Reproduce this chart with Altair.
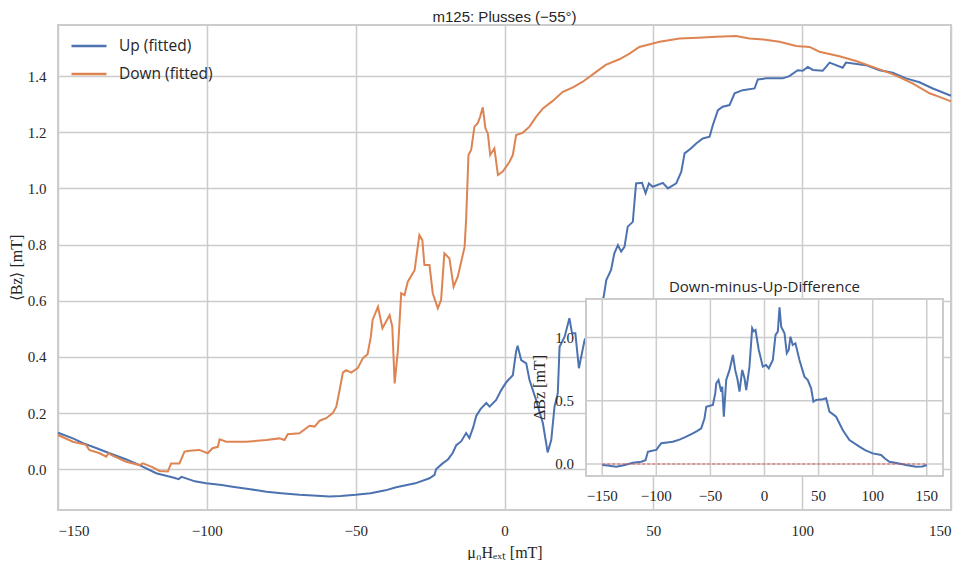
import altair as alt
import pandas as pd

# ---------------- data ----------------
SERIES = ["Up (fitted)", "Down (fitted)"]
COLORS = ["#4c72b0", "#dd8452"]

UP_X = [-150, -145, -141.6, -137, -132.7, -127, -122.6, -117, -113, -111, -109.5, -108.5, -104, -100.2,
        -95, -91.4, -86, -80, -75, -68.9, -63, -58.8, -55, -50, -45, -40, -36.4, -30, -25.2, -23.5, -23,
        -20.8, -19, -17.4, -16.2, -14.5, -12.9, -11.8, -10.5, -9.5, -8, -6.1, -5.0, -2.8, -1.1, 0.6, 2.8,
        3.9, 4.4, 5.6, 7.3, 8.4, 10.6, 12.9, 14.5, 15.7, 16.8, 17.9, 18.5, 20.2, 21.8, 22.7, 23.8, 25,
        26.9, 29, 31, 33.3, 34.2, 35.8, 36.9, 38.1, 39.2, 40.3, 41.4, 43.1, 44.2, 46.2, 47.4, 48.5, 49.8,
        53.2, 54.9, 57.7, 59.4, 60.5, 62.7, 64.4, 66.6, 68.9, 70, 71.7, 73.3, 75.6, 77.3, 80, 84, 85.1,
        87.9, 93.5, 95.7, 98.5, 100.2, 101.9, 103.6, 106.9, 109.2, 113.6, 114.7, 121.4, 126, 130.4, 134.9,
        139.4, 143.9, 150]
UP_Y = [0.13, 0.11, 0.093, 0.075, 0.057, 0.035, 0.015, -0.014, -0.025, -0.03, -0.035, -0.027, -0.043, -0.05,
        -0.056, -0.062, -0.07, -0.08, -0.085, -0.091, -0.094, -0.097, -0.095, -0.091, -0.085, -0.075, -0.064,
        -0.05, -0.032, -0.02, 0.0, 0.021, 0.035, 0.058, 0.086, 0.1, 0.129, 0.111, 0.15, 0.19, 0.215, 0.236,
        0.223, 0.247, 0.282, 0.31, 0.335, 0.42, 0.44, 0.389, 0.377, 0.318, 0.247, 0.164, 0.06, 0.104, 0.223,
        0.27, 0.436, 0.472, 0.538, 0.484, 0.484, 0.36, 0.46, 0.5, 0.56, 0.614, 0.674, 0.71, 0.769, 0.798,
        0.775, 0.792, 0.864, 0.881, 1.018, 1.02, 0.983, 1.018, 1.006, 1.02, 1.0, 1.018, 1.06, 1.125, 1.143,
        1.16, 1.178, 1.184, 1.226, 1.279, 1.291, 1.297, 1.339, 1.35, 1.356, 1.388, 1.392, 1.392, 1.4, 1.421,
        1.419, 1.433, 1.422, 1.419, 1.448, 1.43, 1.448, 1.439, 1.421, 1.412, 1.392, 1.378, 1.356, 1.33]

DOWN_X = [-150, -145, -140.6, -139.5, -136, -133.8, -133, -132, -127.1, -122.6, -121.5, -118.1, -115.9,
          -113.1, -112, -109.2, -107.5, -105.8, -102.5, -99.7, -98.1, -96.3, -95.7, -93.5, -86.8, -80, -75.6,
          -73.9, -72.8, -68.9, -65.5, -63.8, -62.1, -59.9, -57.7, -56.5, -55.4, -54.3, -53.2, -51.5, -49.3,
          -47.6, -46, -44.9, -44.3, -42.5, -41, -38.6, -37.7, -36.9, -35.8, -34.7, -33.6, -32.5, -30.2,
          -28.6, -27.6, -26.9, -25.2, -24.1, -22.4, -21.3, -20.2, -18.5, -17.1, -15.7, -13.4, -12.9, -12.1,
          -11.2, -10.1, -9.0, -8.2, -7.3, -6.4, -5.6, -4.8, -3.4, -2.2, -0.6, 1.7, 2.8, 3.9, 6.1, 8.4, 10.6,
          12.9, 16, 19.6, 23, 26.3, 30.8, 34, 38.6, 42, 45.3, 52.1, 58.8, 65, 71.1, 77.8, 82.3, 87, 92.4, 98,
          102.5, 105.8, 112.5, 118.1, 123.7, 130.4, 137.1, 142.8, 146.1, 150]
DOWN_Y = [0.122, 0.098, 0.087, 0.069, 0.057, 0.045, 0.057, 0.05, 0.027, 0.015, 0.021, 0.007, -0.006, -0.008,
          0.021, 0.021, 0.063, 0.066, 0.069, 0.057, 0.075, 0.08, 0.107, 0.098, 0.098, 0.104, 0.11, 0.104,
          0.125, 0.128, 0.155, 0.152, 0.173, 0.182, 0.2, 0.223, 0.282, 0.344, 0.353, 0.344, 0.36, 0.395, 0.41,
          0.472, 0.532, 0.579, 0.502, 0.549, 0.508, 0.306, 0.425, 0.627, 0.62, 0.668, 0.709, 0.834, 0.816,
          0.727, 0.727, 0.627, 0.573, 0.603, 0.769, 0.751, 0.65, 0.686, 0.792, 0.887, 1.119, 1.137, 1.22,
          1.232, 1.255, 1.289, 1.214, 1.196, 1.119, 1.143, 1.048, 1.06, 1.095, 1.119, 1.19, 1.198, 1.22,
          1.255, 1.285, 1.31, 1.344, 1.36, 1.38, 1.415, 1.44, 1.46, 1.48, 1.504, 1.522, 1.534, 1.537, 1.54,
          1.543, 1.534, 1.53, 1.522, 1.507, 1.504, 1.487, 1.471, 1.454, 1.433, 1.407, 1.374, 1.339, 1.326,
          1.31]

DIFF_X = [-150, -145, -137, -130, -121.6, -113.9, -110, -107.8, -104, -100, -95.4, -90, -84.7, -78, -72.3,
          -66.2, -62, -58.5, -55.5, -53.8, -50.5, -47.7, -45.5, -44.6, -42.5, -40, -39.1, -37.6, -35.4,
          -32.3, -29.2, -27.1, -25, -23.1, -20.6, -18.5, -16.9, -13.9, -11.4, -10, -8.3, -5.3, -3.5, -1.6,
          1.5, 4, 7.7, 10.2, 12.3, 13.9, 15.4, 18.5, 20.6, 22.4, 24, 26.1, 28.6, 32.3, 36.9, 40, 43.1, 45.2,
          47.7, 53.8, 57, 60, 66.2, 72.3, 78.5, 87.7, 93, 100, 107.8, 111, 115.4, 122, 130.8, 140.1, 146, 150]
DIFF_Y = [-0.008, -0.012, -0.021, -0.01, 0.01, 0.018, 0.03, 0.097, 0.105, 0.111, 0.164, 0.17, 0.176, 0.195,
          0.216, 0.243, 0.262, 0.282, 0.36, 0.453, 0.46, 0.467, 0.56, 0.638, 0.664, 0.572, 0.612, 0.374,
          0.664, 0.744, 0.862, 0.744, 0.67, 0.572, 0.744, 0.68, 0.585, 0.77, 1.074, 1.05, 1.06, 0.902, 0.84,
          0.77, 0.783, 0.757, 0.823, 1.021, 1.047, 1.24, 1.086, 1.034, 0.876, 0.902, 1.007, 0.941, 0.955,
          0.823, 0.691, 0.664, 0.599, 0.493, 0.506, 0.512, 0.52, 0.414, 0.374, 0.269, 0.19, 0.137, 0.11,
          0.084, 0.071, 0.045, 0.018, 0.008, -0.008, -0.021, -0.02, -0.008]

MAIN_X_TICKS = [-150, -100, -50, 0, 50, 100, 150]
MAIN_Y_TICKS = [0.0, 0.2, 0.4, 0.6, 0.8, 1.0, 1.2, 1.4]
MAIN_X_DOMAIN = [-150, 150]
MAIN_Y_DOMAIN = [-0.145, 1.582]

INSET_X_TICKS = [-150, -100, -50, 0, 50, 100, 150]
INSET_X_LABELS = ["−150", "−100", "−50", "0", "50", "100", "150"]
INSET_Y_TICKS = [0.0, 0.5, 1.0]
INSET_Y_LABELS = ["0.0", "0.5", "1.0"]
INSET_X_DOMAIN = [-165, 165]
INSET_Y_DOMAIN = [-0.095, 1.305]
INSET_ZERO_SPAN = [-150, 150]

TITLE = "m125: Plusses (−55°)"
INSET_TITLE = "Down-minus-Up-Difference"
INSET_Y_TITLE = "ΔBz [mT]"

# ---------------- layout ----------------
W, H = 893, 485
INSET_PX_X = [528, 885]
INSET_PX_Y = [451, 274]
GRID = "#cccccc"
TXT = "#262626"
SERIF = "Liberation Serif"
SANS = "Open Sans"

main_df = pd.concat([
    pd.DataFrame({"x": UP_X, "y": UP_Y, "series": SERIES[0]}),
    pd.DataFrame({"x": DOWN_X, "y": DOWN_Y, "series": SERIES[1]}),
])

main = alt.Chart(main_df).mark_line(strokeWidth=2).encode(
    x=alt.X("x:Q", scale=alt.Scale(domain=MAIN_X_DOMAIN, nice=False, zero=False),
            axis=alt.Axis(values=MAIN_X_TICKS, format="d", title="μ₀Hₑₓₜ [mT]", grid=True,
                          labelPadding=13, titlePadding=6)),
    y=alt.Y("y:Q", scale=alt.Scale(domain=MAIN_Y_DOMAIN, nice=False, zero=False),
            axis=alt.Axis(values=MAIN_Y_TICKS, format=".1f", title="⟨Bz⟩ [mT]", grid=True,
                          labelPadding=12, titlePadding=3)),
    color=alt.Color("series:N", scale=alt.Scale(domain=SERIES, range=COLORS),
                    legend=alt.Legend(title=None, orient="none", legendX=12, legendY=2,
                                      symbolType="stroke", symbolSize=1225, symbolStrokeWidth=2.4,
                                      labelFont=SANS, labelFontSize=15.5, labelColor=TXT,
                                      labelOffset=11, rowPadding=-1, padding=0)),
    detail="series:N",
)

xs_in = alt.Scale(domain=INSET_X_DOMAIN, range=INSET_PX_X, nice=False, zero=False)
ys_in = alt.Scale(domain=INSET_Y_DOMAIN, range=INSET_PX_Y, nice=False, zero=False)

frame_df = pd.DataFrame({"x0": [INSET_X_DOMAIN[0]], "x1": [INSET_X_DOMAIN[1]],
                         "y0": [INSET_Y_DOMAIN[0]], "y1": [INSET_Y_DOMAIN[1]]})
frame = alt.Chart(frame_df).mark_rect(fill="white", stroke=GRID, strokeWidth=2).encode(
    x=alt.X("x0:Q", scale=xs_in, axis=None), x2="x1:Q",
    y=alt.Y("y0:Q", scale=ys_in, axis=None), y2="y1:Q")

vgrid = alt.Chart(pd.DataFrame({"x": INSET_X_TICKS, "y0": INSET_Y_DOMAIN[0], "y1": INSET_Y_DOMAIN[1]})).mark_rule(
    color=GRID, strokeWidth=1.5).encode(
    x=alt.X("x:Q", scale=xs_in, axis=None),
    y=alt.Y("y0:Q", scale=ys_in, axis=None), y2="y1:Q")

hgrid = alt.Chart(pd.DataFrame({"y": INSET_Y_TICKS, "x0": INSET_X_DOMAIN[0], "x1": INSET_X_DOMAIN[1]})).mark_rule(
    color=GRID, strokeWidth=1.5).encode(
    y=alt.Y("y:Q", scale=ys_in, axis=None),
    x=alt.X("x0:Q", scale=xs_in, axis=None), x2="x1:Q")

diff = alt.Chart(pd.DataFrame({"x": DIFF_X, "y": DIFF_Y})).mark_line(color=COLORS[0], strokeWidth=2).encode(
    x=alt.X("x:Q", scale=xs_in, axis=None),
    y=alt.Y("y:Q", scale=ys_in, axis=None),
)

zero = alt.Chart(pd.DataFrame({"x0": [INSET_ZERO_SPAN[0]], "x1": [INSET_ZERO_SPAN[1]], "y": [0.0]})).mark_rule(
    color="#e05555", strokeWidth=1, strokeDash=[3, 2]).encode(
    x=alt.X("x0:Q", scale=xs_in, axis=None), x2="x1:Q",
    y=alt.Y("y:Q", scale=ys_in, axis=None))

xlab = alt.Chart(pd.DataFrame({"x": INSET_X_TICKS, "y": INSET_Y_DOMAIN[0], "t": INSET_X_LABELS})).mark_text(
    baseline="top", align="center", dy=13, font=SERIF, fontSize=15, color=TXT).encode(
    x=alt.X("x:Q", scale=xs_in, axis=None),
    y=alt.Y("y:Q", scale=ys_in, axis=None),
    text="t:N")

ylab = alt.Chart(pd.DataFrame({"y": INSET_Y_TICKS, "x": INSET_X_DOMAIN[0], "t": INSET_Y_LABELS})).mark_text(
    baseline="middle", align="right", dx=-12, font=SERIF, fontSize=15, color=TXT).encode(
    x=alt.X("x:Q", scale=xs_in, axis=None),
    y=alt.Y("y:Q", scale=ys_in, axis=None),
    text="t:N")

ytitle = alt.Chart(pd.DataFrame({"x": [INSET_X_DOMAIN[0]],
                                 "y": [(INSET_Y_DOMAIN[0] + INSET_Y_DOMAIN[1]) / 2],
                                 "t": [INSET_Y_TITLE]})).mark_text(
    angle=270, baseline="bottom", align="center", dy=-38, font=SERIF, fontSize=16, color=TXT).encode(
    x=alt.X("x:Q", scale=xs_in, axis=None),
    y=alt.Y("y:Q", scale=ys_in, axis=None),
    text="t:N")

ttl = alt.Chart(pd.DataFrame({"x": [(INSET_X_DOMAIN[0] + INSET_X_DOMAIN[1]) / 2], "y": [INSET_Y_DOMAIN[1]],
                              "t": [INSET_TITLE]})).mark_text(
    baseline="bottom", dy=-4, font=SANS, fontSize=15, color=TXT).encode(
    x=alt.X("x:Q", scale=xs_in, axis=None),
    y=alt.Y("y:Q", scale=ys_in, axis=None),
    text="t:N")

inset = alt.layer(frame, vgrid, hgrid, diff, zero, xlab, ylab, ytitle, ttl)

chart = alt.layer(main, inset).resolve_scale(x="independent", y="independent").properties(
    width=W, height=H,
    title=alt.TitleParams(TITLE, font="Liberation Sans", fontSize=15, fontWeight="normal", color=TXT,
                          offset=0),
    autosize=alt.AutoSizeParams(type="none"),
    padding={"left": 50, "top": 17, "right": 8, "bottom": 50},
).configure_view(stroke=GRID, strokeWidth=2).configure_axis(
    labelFont=SERIF, labelFontSize=15, labelColor=TXT,
    titleFont=SERIF, titleFontSize=16, titleColor=TXT, titleFontWeight="normal",
    gridColor=GRID, gridWidth=1.5, ticks=False, tickSize=0, domain=False,
)

chart.save("out.html", embed_options={"renderer": "svg", "actions": False})
